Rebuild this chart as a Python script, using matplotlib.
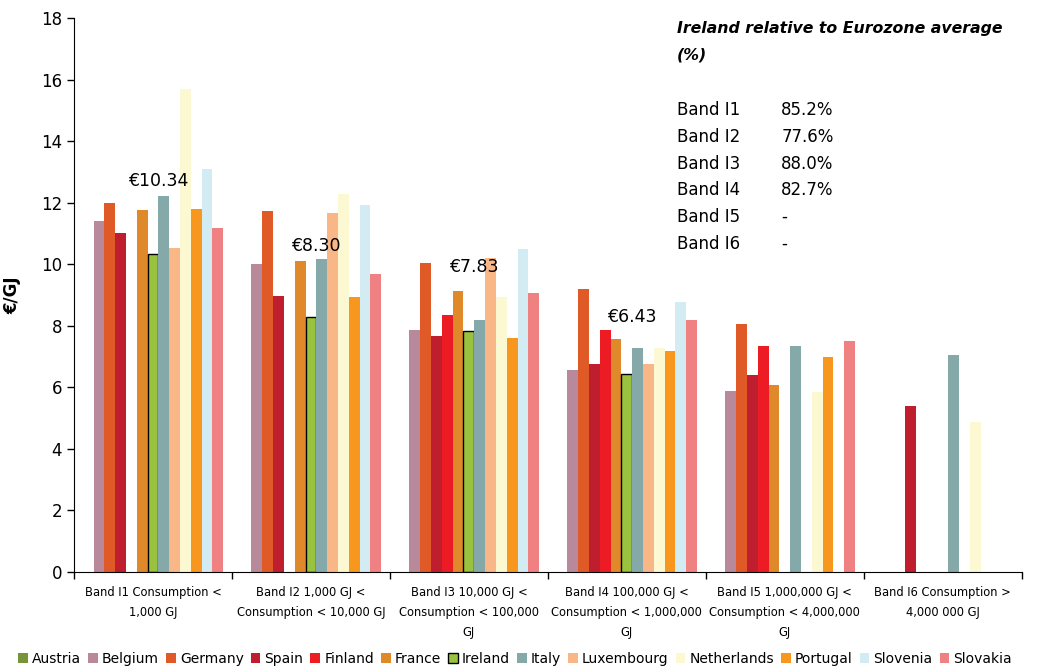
import numpy as np
import matplotlib
matplotlib.use("Agg")
import matplotlib.pyplot as plt
from matplotlib.ticker import FixedLocator

nan = np.nan

# band labels on the x axis
bands = ["Band I1 Consumption <\n1,000 GJ",
         "Band I2 1,000 GJ <\nConsumption < 10,000 GJ",
         "Band I3 10,000 GJ <\nConsumption < 100,000\nGJ",
         "Band I4 100,000 GJ <\nConsumption < 1,000,000\nGJ",
         "Band I5 1,000,000 GJ <\nConsumption < 4,000,000\nGJ",
         "Band I6 Consumption >\n4,000 000 GJ"]

countries = ["Austria", "Belgium", "Germany", "Spain", "Finland", "France", "Ireland",
             "Italy", "Luxembourg", "Netherlands", "Portugal", "Slovenia", "Slovakia"]

# euro per GJ, one list per country (I1..I6)
austria     = [nan, nan, nan, nan, nan, nan]
belgium     = [11.42, 10.01, 7.85, 6.57, 5.88, nan]
germany     = [12.00, 11.73, 10.03, 9.20, 8.06, nan]
spain       = [11.02, 8.97, 7.66, 6.76, 6.40, 5.40]
finland     = [nan, nan, 8.34, 7.87, 7.35, nan]
france      = [11.77, 10.11, 9.12, 7.57, 6.08, nan]
ireland     = [10.34, 8.30, 7.83, 6.43, nan, nan]
italy       = [12.22, 10.17, 8.18, 7.28, 7.35, 7.05]
luxembourg  = [10.53, 11.67, 10.19, 6.76, nan, nan]
netherlands = [15.71, 12.29, 8.93, 7.28, 5.85, 4.88]
portugal    = [11.81, 8.94, 7.59, 7.18, 6.99, nan]
slovenia    = [13.11, 11.93, 10.49, 8.78, nan, nan]
slovakia    = [11.18, 9.69, 9.06, 8.19, 7.51, nan]

series = [austria, belgium, germany, spain, finland, france, ireland,
          italy, luxembourg, netherlands, portugal, slovenia, slovakia]

colors = ["#77933C", "#B8899B", "#E05A28", "#BE1E2D", "#ED1C24", "#E0892A", "#99C33F",
          "#84A9A8", "#F9B686", "#FBF8D2", "#F7971E", "#D3ECF3", "#F08183"]

ireland_labels = ["€10.34", "€8.30", "€7.83", "€6.43"]
label_y = [12.7, 10.6, 9.9, 8.3]

rel_bands = ["Band I1", "Band I2", "Band I3", "Band I4", "Band I5", "Band I6"]
rel_values = ["85.2%", "77.6%", "88.0%", "82.7%", "-", "-"]

fig = plt.figure(figsize=(10.5, 6.68), dpi=100)
ax = fig.add_axes([0.0705, 0.1437, 0.9025, 0.8293])

n = len(countries)
w = 0.89 / n
x0 = np.arange(len(bands))
for i, (name, vals, c) in enumerate(zip(countries, series, colors)):
    xs = x0 + 0.055 + (i + 0.5) * w
    if name == "Ireland":
        ax.bar(xs, vals, width=w, color=c, edgecolor="black", linewidth=1.0, label=name)
    else:
        ax.bar(xs, vals, width=w, color=c, linewidth=0, label=name)

# Ireland value labels
irl_x = x0 + 0.055 + (6 + 0.5) * w
for k, t in enumerate(ireland_labels):
    ax.text(irl_x[k] + 0.03, label_y[k], t, ha="center", va="center", fontsize=12.5)

ax.set_xlim(0, len(bands))
ax.set_ylim(0, 18)
ax.set_yticks(np.arange(0, 19, 2))
ax.tick_params(axis="y", labelsize=12, direction="out", length=5, width=1)
ax.set_xticks(x0 + 0.5)
ax.set_xticklabels(bands, fontsize=8.3, linespacing=1.7)
ax.xaxis.set_minor_locator(FixedLocator(np.arange(0, len(bands) + 1)))
ax.tick_params(axis="x", which="major", length=0, pad=10)
ax.tick_params(axis="x", which="minor", length=5, width=1, direction="out")
ax.spines["top"].set_visible(False)
ax.spines["right"].set_visible(False)
ax.set_ylabel("€/GJ", fontsize=12, fontweight="bold", labelpad=14)

# side box
fig.text(0.645, 0.958, "Ireland relative to Eurozone average", fontsize=11.3,
         fontweight="bold", fontstyle="italic", va="center")
fig.text(0.645, 0.918, "(%)", fontsize=11.3, fontweight="bold", fontstyle="italic", va="center")
for k, (b, v) in enumerate(zip(rel_bands, rel_values)):
    yy = 1 - (110 + k * 26.8) / 668
    fig.text(0.645, yy, b, fontsize=12, va="center")
    fig.text(0.744, yy, v, fontsize=12, va="center")

fig.legend(loc="center left", bbox_to_anchor=(0.012, 0.014), ncol=13, frameon=False,
           fontsize=10, handlelength=0.7, handleheight=0.7, handletextpad=0.3,
           columnspacing=0.5, borderaxespad=0)

fig.savefig("out.png", dpi=100)
